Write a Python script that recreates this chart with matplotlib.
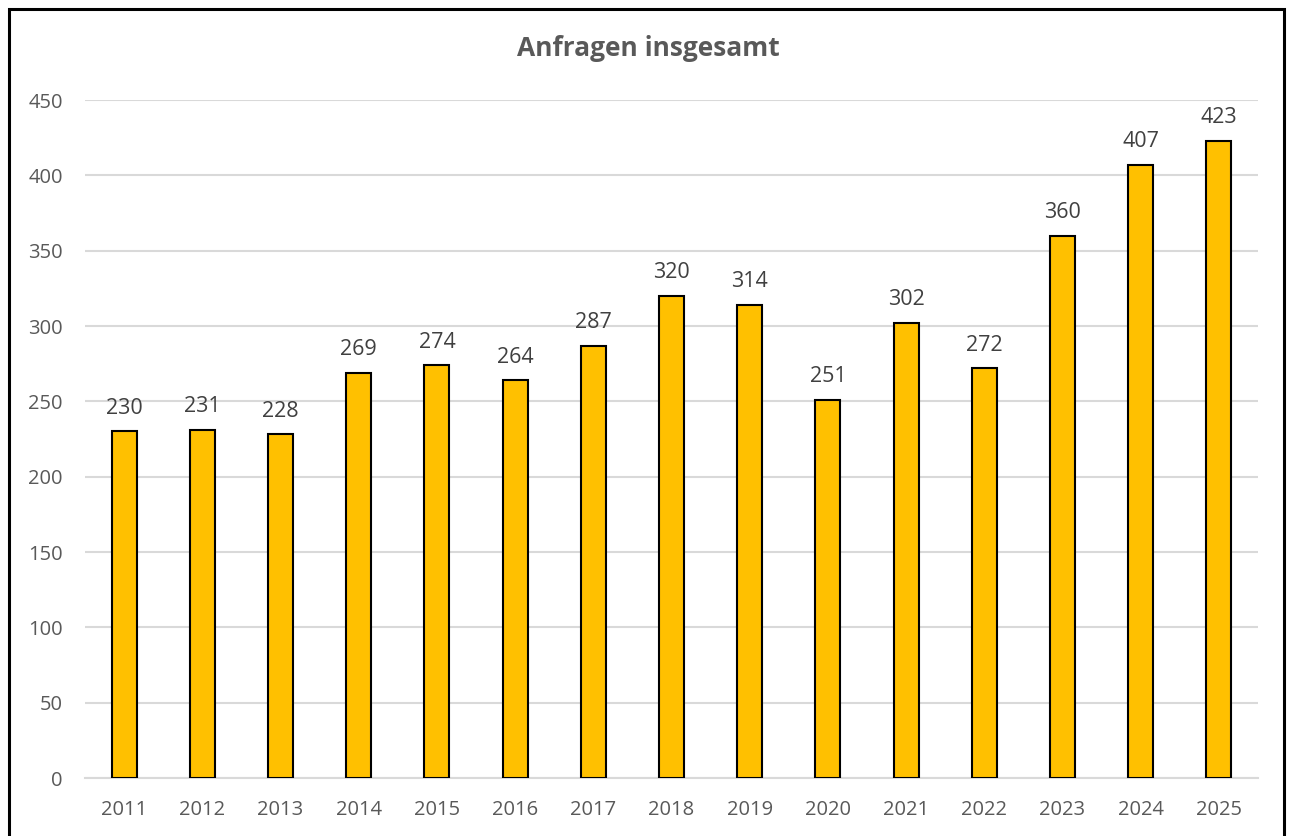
import matplotlib
matplotlib.use('Agg')
import matplotlib.pyplot as plt
from matplotlib.patches import Rectangle

years = ['2011', '2012', '2013', '2014', '2015', '2016', '2017', '2018',
         '2019', '2020', '2021', '2022', '2023', '2024', '2025']
anfragen = [230, 231, 228, 269, 274, 264, 287, 320, 314, 251, 302, 272, 360, 407, 423]

plt.rcParams['font.family'] = ['Open Sans', 'DejaVu Sans']
grey = '#595959'

fig = plt.figure(figsize=(12.9, 8.36), dpi=100)
ax = fig.add_axes([85 / 1290, 58 / 836, (1258 - 85) / 1290, (778 - 100) / 836])

x = list(range(len(years)))
bars = ax.bar(x, anfragen, width=0.32, color='#FFC000', edgecolor='black', linewidth=1.5, zorder=3)
for xi, v in zip(x, anfragen):
    ax.annotate(str(v), (xi, v), xytext=(0, 9), textcoords='offset points',
                ha='center', va='bottom', fontsize=15.5, color='#404040')

ax.set_xlim(-0.5, len(years) - 0.5)
ax.set_ylim(0, 450)
ax.set_yticks(range(0, 451, 50))
ax.set_xticks(x)
ax.set_xticklabels(years)
ax.tick_params(axis='both', length=0, labelsize=14.5, labelcolor=grey)
ax.tick_params(axis='y', pad=16)
ax.tick_params(axis='x', pad=16)
ax.grid(axis='y', color='#D9D9D9', linewidth=1.5, zorder=0)
for s in ['top', 'right', 'left']:
    ax.spines[s].set_visible(False)
ax.spines['bottom'].set_color('#D9D9D9')
ax.spines['bottom'].set_linewidth(1.5)

fig.text(648 / 1290, 1 - 48 / 836, 'Anfragen insgesamt', ha='center', va='center',
         fontsize=19, fontweight='bold', color=grey)

# chart border
fig.patches.append(Rectangle((9 / 1290, -0.01), (1284 - 9) / 1290, 1 - 9 / 836 + 0.01,
                             transform=fig.transFigure, fill=False, edgecolor='black',
                             linewidth=2.2))

plt.savefig('out.png', dpi=100)
plt.close()
